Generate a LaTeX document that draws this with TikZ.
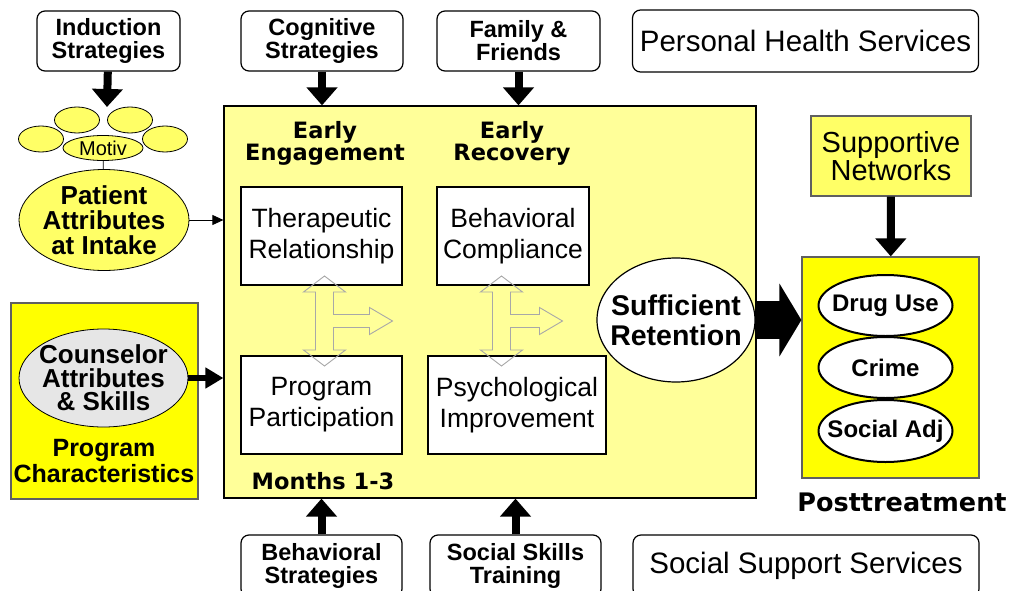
\documentclass[tikz,border=0pt]{standalone}
\usepackage{fontspec}
\setmainfont{Liberation Sans}
\newfontfamily\verdfont{DejaVu Sans}
\usepackage{tikz}
\usetikzlibrary{arrows.meta}
\usetikzlibrary{shapes.geometric}
\definecolor{paleyel}{HTML}{FFFF99}
\definecolor{midyel}{HTML}{FFFF66}
\definecolor{fullyel}{HTML}{FFFF00}
\definecolor{counsgray}{HTML}{E6E6E6}
\definecolor{hollowgray}{HTML}{A8A8A8}
\definecolor{edgegray}{HTML}{606060}

% hollow T arrow: centre x, centre y, tip of the side arrow
\newcommand{\hollowT}[3]{%
  \draw [hollowgray, line width=0.9pt, shift={(#1,#2)}]
    (0,-45) -- (21,-29) -- (9,-29) -- (9,-6.5) -- (#3-23,-6.5) -- (#3-23,-13.5)
    -- (#3,0) -- (#3-23,13.5) -- (#3-23,6.5) -- (9,6.5) -- (9,29) -- (21,29)
    -- (0,45) -- (-21,29) -- (-9,29) -- (-9,-29) -- (-21,-29) -- cycle;
}

\begin{document}
\begin{tikzpicture}[x=1pt, y=-1pt, line width=1.2pt,
  rbox/.style = {draw, rounded corners=8pt, fill=white, align=center, inner sep=0pt,
                 minimum height=60pt, font=\bfseries\fontsize{23.5}{23}\selectfont},
  sbox/.style = {draw, rounded corners=8pt, fill=white, inner sep=0pt,
                 minimum width=346pt, minimum height=62pt, font=\fontsize{29.5}{29}\selectfont},
  inbox/.style = {draw, fill=white, align=center, inner sep=0pt, minimum height=98pt,
                  font=\fontsize{26.5}{31}\selectfont},
  ell/.style = {draw, ellipse, inner sep=0pt},
  outell/.style = {draw, fill=white, line width=2pt},
  outtext/.style = {font=\bfseries\fontsize{24}{24}\selectfont},
  blob/.style = {ell, fill=midyel, line width=0.8pt, minimum width=45pt, minimum height=26pt},
  phase/.style = {align=center, font=\verdfont\bfseries\fontsize{22.5}{22}\selectfont},
  fat/.style = {line width=8pt, -{Triangle[width=30pt, length=18pt]}}]
  \useasboundingbox (0,0) rectangle (1011,591);

  %top row
  \node[rbox, minimum width=143pt] (induct) at (108.5,41) {Induction\\Strategies};
  \node[rbox, minimum width=162pt] (cogn) at (322,41) {Cognitive\\Strategies};
  \node[rbox, minimum width=163pt] (family) at (518.5,41) {Family \&\\Friends};
  \node[sbox] (health) at (805.5,41) {Personal Health Services};

  %bottom row
  \node[rbox, minimum width=161pt, minimum height=62pt] (behav) at (321.5,566) {Behavioral\\Strategies};
  \node[rbox, minimum width=171pt, minimum height=62pt] (social) at (515.5,566) {Social Skills\\Training};
  \node[sbox] (support) at (806,566) {Social Support Services};

  %main box
  \node[draw, fill=paleyel, minimum width=532pt, minimum height=392pt, inner sep=0pt]
    (main) at (490,302) {};
  \node[phase] (engage) at (325,143) {Early\\Engagement};
  \node[phase] (recov) at (512,143) {Early\\Recovery};
  \node[phase] (months) at (323,481) {Months 1-3};

  %inner boxes
  \node[inbox, minimum width=161pt] (thera) at (321.5,236) {Therapeutic\\Relationship};
  \node[inbox, minimum width=152pt] (compl) at (513,236) {Behavioral\\Compliance};
  \node[inbox, minimum width=161pt] (partic) at (321.5,405) {Program\\Participation};
  \node[inbox, minimum width=178pt] (psych) at (517,405) {Psychological\\Improvement};
  \hollowT{324.5}{321}{68}
  \hollowT{501.5}{321}{61}

  %retention
  \node[ell, fill=white, minimum width=158pt, minimum height=124pt,
        label={[align=center, font=\bfseries\fontsize{28.5}{30}\selectfont]center:Sufficient\\Retention}]
    (retain) at (676,320) {};

  %left side: patient
  \node[blob] (b1) at (77,120) {};
  \node[blob] (b2) at (130,120) {};
  \node[blob] (b3) at (41,139) {};
  \node[blob] (b4) at (165,139) {};
  \node[ell, fill=midyel, line width=0.8pt, minimum width=80pt, minimum height=25pt,
        label={[font=\fontsize{20}{20}\selectfont]center:Motiv}] (motiv) at (103,148) {};
  \node[ell, fill=midyel, line width=0.8pt, minimum width=170pt, minimum height=101pt,
        label={[align=center, font=\bfseries\fontsize{26}{25}\selectfont]center:Patient\\Attributes\\at Intake}]
    (patient) at (104,220) {};
  \draw [line width=0.8pt] (motiv) -- (patient);
  \coordinate (indtip) at (107,107);

  %left side: program
  \node[draw=edgegray, fill=fullyel, minimum width=187pt, minimum height=196pt, inner sep=0pt]
    (progbox) at (104.5,401) {};
  \node[ell, fill=counsgray, line width=0.8pt, minimum width=169pt, minimum height=98pt,
        label={[align=center, font=\bfseries\fontsize{26}{23.5}\selectfont]center:Counselor\\Attributes\\\& Skills}]
    (couns) at (103.5,378) {};
  \node[align=center, font=\bfseries\fontsize{25}{26}\selectfont] (progch) at (104,461)
    {Program\\Characteristics};

  %right side
  \node[draw=edgegray, fill=fullyel, minimum width=160pt, minimum height=80pt, inner sep=0pt,
        align=center, font=\fontsize{29}{27}\selectfont, fill=midyel] (network) at (891,156) {Supportive\\Networks};
  \node[draw=edgegray, fill=fullyel, minimum width=177pt, minimum height=221pt, inner sep=0pt]
    (outcome) at (890.5,367.5) {};
  \draw [outell] (885.5,305.5) ellipse (67 and 30.5);
  \draw [outell] (885.5,367.5) ellipse (67 and 30.5);
  \draw [outell] (885.5,431) ellipse (67 and 31);
  \node[outtext] (drug) at (885.5,305.5) {Drug Use};
  \node[outtext] (crime) at (885.5,367.5) {Crime};
  \node[outtext] (socadj) at (885.5,431) {Social Adj};
  \node[font=\verdfont\bfseries\fontsize{25.5}{25}\selectfont] (post) at (902,502) {Posttreatment};

  %arrows
  \draw [fat] (induct) -- (indtip);
  \draw [fat] (cogn) -- (cogn.south |- main.north);
  \draw [fat] (family) -- (family.south |- main.north);
  \draw [fat] (behav) -- (behav.north |- main.south);
  \draw [fat] (social) -- (social.north |- main.south);
  \draw [fat] (network) -- (outcome);
  \draw [line width=0.8pt, -{Triangle[width=10pt, length=11pt]}] (patient.east) -- (patient.east -| main.west);
  \draw [line width=6pt, -{Triangle[width=20pt, length=18pt]}] (couns.east) -- (couns.east -| main.west);
  \draw [line width=38pt, -{Triangle[width=72pt, length=22pt]}] (retain.east) -- (retain.east -| outcome.west);
\end{tikzpicture}
\end{document}
